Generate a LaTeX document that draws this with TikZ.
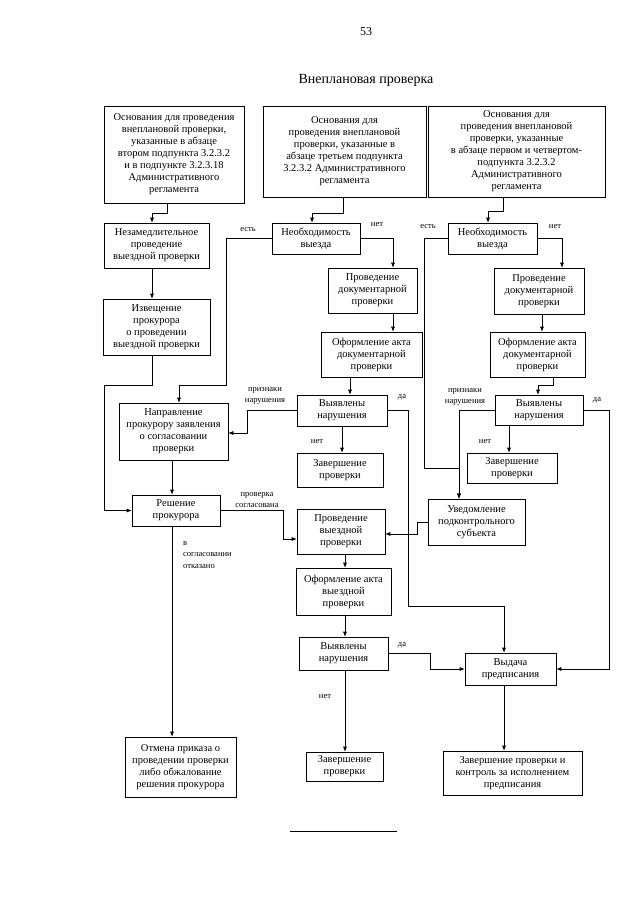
\documentclass[tikz,border=0pt]{standalone}
\usepackage{fontspec}
\setmainfont{Liberation Serif}
\usetikzlibrary{arrows.meta}

\tikzset{
	block/.style={draw, line width=0.6pt, align=center, inner sep=1pt, font=\fontsize{10.5}{12}\selectfont},
	note/.style={align=center, inner sep=0pt, font=\fontsize{8.5}{10.5}\selectfont},
	flow/.style={line width=0.6pt, -{Latex[length=5pt, width=4pt]}},
}

\begin{document}
\begin{tikzpicture}[x=1pt, y=-1pt]
				\useasboundingbox (0, 0) rectangle (640, 905);

				\node[font=\fontsize{12}{14}\selectfont] at (366, 32) (page-number) {53};
				\node[font=\fontsize{14}{16}\selectfont] at (366, 80) (title) {Внеплановая проверка};

				\node[block, minimum width=140pt, minimum height=97pt] at (174, 154.5) (grounds-second) {Основания для проведения\\внеплановой проверки,\\указанные в абзаце\\втором подпункта 3.2.3.2\\и в подпункте 3.2.3.18\\Административного\\регламента};
				\node[block, minimum width=163pt, minimum height=91pt] at (344.5, 151.5) (grounds-third) {Основания для\\проведения внеплановой\\проверки, указанные в\\абзаце третьем подпункта\\3.2.3.2 Административного\\регламента};
				\node[block, minimum width=177pt, minimum height=91pt] at (516.5, 151.5) (grounds-first) {Основания для\\проведения внеплановой\\проверки, указанные\\в абзаце первом и четвертом-\\подпункта 3.2.3.2\\Административного\\регламента};

				\node[block, minimum width=105pt, minimum height=45pt] at (156.5, 245.5) (urgent-visit) {Незамедлительное\\проведение\\выездной проверки};
				\node[block, minimum width=107pt, minimum height=56pt] at (156.5, 327) (notify-prosecutor) {Извещение\\прокурора\\о проведении\\выездной проверки};
				\node[block, minimum width=109pt, minimum height=57pt] at (173.5, 431.5) (request-approval) {Направление\\прокурору заявления\\о согласовании\\проверки};
				\node[block, minimum width=88pt, minimum height=31pt] at (176, 510.5) (prosecutor-decision) {Решение\\прокурора};
				\node[block, minimum width=111pt, minimum height=60pt] at (180.5, 767) (cancel-order) {Отмена приказа о\\проведении проверки\\либо обжалование\\решения прокурора};

				\node[block, minimum width=88pt, minimum height=31pt] at (316, 238.5) (need-visit-mid) {Необходимость\\выезда};
				\node[block, minimum width=89pt, minimum height=45pt] at (372.5, 290.5) (doc-check-mid) {Проведение\\документарной\\проверки};
				\node[block, minimum width=101pt, minimum height=45pt] at (371.5, 354.5) (doc-act-mid) {Оформление акта\\документарной\\проверки};
				\node[block, minimum width=90pt, minimum height=31pt] at (342, 410.5) (violations-mid) {Выявлены\\нарушения};
				\node[block, minimum width=86pt, minimum height=34pt] at (340, 470) (finish-mid) {Завершение\\проверки};
				\node[block, minimum width=88pt, minimum height=45pt] at (341, 531.5) (site-check) {Проведение\\выездной\\проверки};
				\node[block, minimum width=95pt, minimum height=47pt] at (343.5, 591.5) (site-act) {Оформление акта\\выездной\\проверки};
				\node[block, minimum width=89pt, minimum height=33pt] at (343.5, 653.5) (violations-low) {Выявлены\\нарушения};
				\node[block, minimum width=77pt, minimum height=29pt] at (344.5, 766.5) (finish-low) {Завершение\\проверки};

				\node[block, minimum width=89pt, minimum height=31pt] at (492.5, 238.5) (need-visit-right) {Необходимость\\выезда};
				\node[block, minimum width=90pt, minimum height=46pt] at (539, 291) (doc-check-right) {Проведение\\документарной\\проверки};
				\node[block, minimum width=95pt, minimum height=45pt] at (537.5, 354.5) (doc-act-right) {Оформление акта\\документарной\\проверки};
				\node[block, minimum width=88pt, minimum height=30pt] at (539, 410) (violations-right) {Выявлены\\нарушения};
				\node[block, minimum width=90pt, minimum height=30pt] at (512, 468) (finish-right) {Завершение\\проверки};
				\node[block, minimum width=97pt, minimum height=46pt] at (476.5, 522) (notify-subject) {Уведомление\\подконтрольного\\субъекта};
				\node[block, minimum width=91pt, minimum height=32pt] at (510.5, 669) (order-issue) {Выдача\\предписания};
				\node[block, minimum width=139pt, minimum height=44pt] at (512.5, 773) (finish-control) {Завершение проверки и\\контроль за исполнением\\предписания};

				\node[note] at (248, 230) (yes-mid-label) {есть};
				\node[note] at (377, 225) (no-mid-label) {нет};
				\node[note] at (265, 396) (signs-mid-label) {признаки\\нарушения};
				\node[note] at (402, 397) (da-mid-label) {да};
				\node[note] at (317, 442) (net-mid-label) {нет};
				\node[note] at (257, 500) (approved-label) {проверка\\согласована};
				\node[note, anchor=west, align=left, font=\fontsize{8.5}{11.5}\selectfont] at (183, 555) (refused-label) {в\\согласовании\\отказано};
				\node[note] at (402, 645) (da-low-label) {да};
				\node[note] at (325, 697) (net-low-label) {нет};
				\node[note] at (428, 227) (yes-right-label) {есть};
				\node[note] at (555, 227) (no-right-label) {нет};
				\node[note] at (465, 397) (signs-right-label) {признаки\\нарушения};
				\node[note] at (597, 400) (da-right-label) {да};
				\node[note] at (485, 442) (net-right-label) {нет};

				\draw[flow] (grounds-second.south -| 167,0) -- (167, 213) -| (urgent-visit.north -| 152,0);
				\draw[flow] (urgent-visit.south -| 152,0) -- (notify-prosecutor.north -| 152,0);
				\draw[flow] (notify-prosecutor.south -| 152,0) |- (104, 385) |- (prosecutor-decision.west);
				\draw[flow] (request-approval.south -| 172,0) -- (prosecutor-decision.north -| 172,0);
				\draw[flow] (prosecutor-decision.south -| 172,0) -- (cancel-order.north -| 172,0);
				\draw[flow] (prosecutor-decision.east) -| (283, 539) -- (site-check.west |- 283,539);

				\draw[flow] (grounds-third.south -| 343,0) -- (343, 213) -| (need-visit-mid.north -| 312,0);
				\draw[flow] (need-visit-mid.east) -| (doc-check-mid.north -| 393,0);
				\draw[flow] (need-visit-mid.west) -| (226, 385) -| (request-approval.north -| 179,0);
				\draw[flow] (doc-check-mid.south -| 393,0) -- (doc-act-mid.north -| 393,0);
				\draw[flow] (doc-act-mid.south -| 350,0) -- (violations-mid.north -| 350,0);
				\draw[flow] (violations-mid.west) -| (247, 433) -- (request-approval.east |- 247,433);
				\draw[flow] (violations-mid.south) -- (violations-mid.south |- finish-mid.north);
				\draw[flow] (violations-mid.east) -| (408, 606) -| (order-issue.north -| 504,0);
				\draw[flow] (site-check.south -| 345,0) -- (site-act.north -| 345,0);
				\draw[flow] (site-act.south -| 345,0) -- (violations-low.north -| 345,0);
				\draw[flow] (violations-low.east) -| (430, 669) -- (order-issue.west);
				\draw[flow] (violations-low.south -| 345,0) -- (finish-low.north -| 345,0);
				\draw[flow] (order-issue.south -| 504,0) -- (finish-control.north -| 504,0);

				\draw[flow] (grounds-first.south -| 503,0) -- (503, 211) -| (need-visit-right.north -| 488,0);
				\draw[flow] (need-visit-right.east) -| (doc-check-right.north -| 562,0);
				\draw[flow] (need-visit-right.west) -| (424, 468) -| (notify-subject.north -| 459,0);
				\draw[flow] (doc-check-right.south -| 542,0) -- (doc-act-right.north -| 542,0);
				\draw[flow] (doc-act-right.south -| 553,0) -- (553, 385) -| (violations-right.north -| 538,0);
				\draw[flow] (violations-right.west) -| (notify-subject.north -| 459,0);
				\draw[flow] (violations-right.south -| 509,0) -- (finish-right.north -| 509,0);
				\draw[flow] (violations-right.east) -| (609, 669) -- (order-issue.east);
				\draw[flow] (notify-subject.west) -| (417, 534) -- (site-check.east |- 417,534);

				\draw[line width=0.6pt] (290, 831) -- (397, 831);
\end{tikzpicture}
\end{document}
